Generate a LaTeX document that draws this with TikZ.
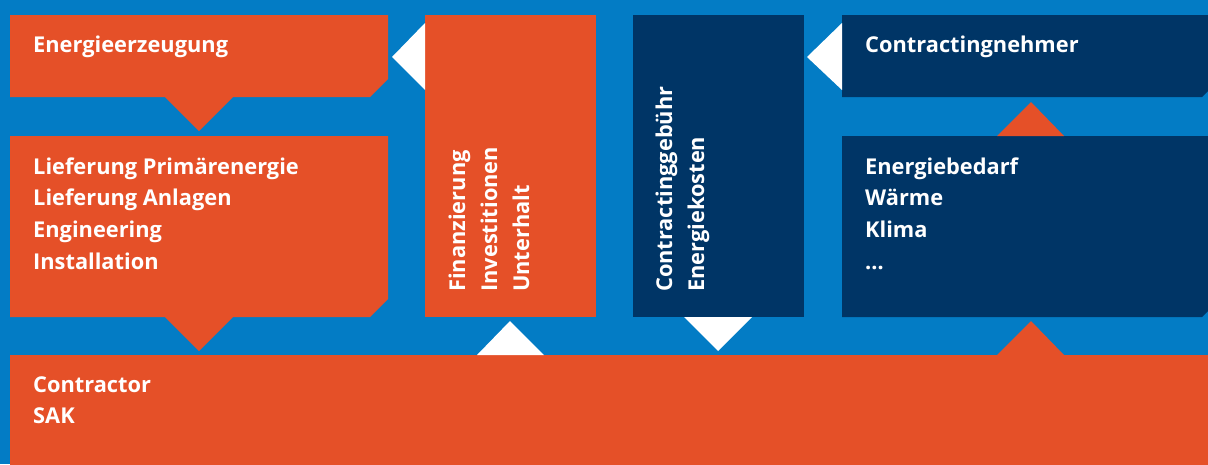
\documentclass[tikz,border=0pt]{standalone}
\usepackage{fontspec}
\setmainfont{Open Sans}
\definecolor{bgblue}{RGB}{3,124,197}
\definecolor{org}{RGB}{229,80,40}
\definecolor{navy}{RGB}{0,53,102}
\begin{document}
\begin{tikzpicture}[x=1pt,y=-1pt,
  lbl/.style={text=white,font=\bfseries\fontsize{21.8}{24}\selectfont,anchor=base west,inner sep=0pt},
  vlbl/.style={lbl,rotate=90}]
\useasboundingbox (0,0) rectangle (1208,464);
\fill[bgblue] (0,0) rectangle (1208,464);
\clip (0,0) rectangle (1208,464);
% orange boxes
\fill[org] (10,15) -- (388,15) -- (388,79) -- (370,97) -- (233,97) -- (199,131) -- (165,97) -- (10,97) -- cycle;
\fill[org] (10,136) -- (388,136) -- (388,299) -- (370,317) -- (233,317) -- (199,351) -- (165,317) -- (10,317) -- cycle;
\fill[org] (10,355) -- (997,355) -- (1031,321) -- (1064,355) -- (1220,355) -- (1220,470) -- (10,470) -- cycle;
\fill[org] (425,15) rectangle (596,317);
% navy boxes
\fill[navy] (633,15) rectangle (804,317);
\fill[navy] (842,15) -- (1220,15) -- (1220,79) -- (1202,97) -- (842,97) -- cycle;
\fill[navy] (842,136) -- (1220,136) -- (1220,299) -- (1202,317) -- (842,317) -- cycle;
\fill[org] (997,136) -- (1031,102) -- (1064,136) -- cycle;
% white triangles
\fill[white] (425,23) -- (392,57) -- (425,90) -- cycle;
\fill[white] (842,23) -- (807,57) -- (842,90) -- cycle;
\fill[white] (477,355) -- (510,321) -- (544,355) -- cycle;
\fill[white] (684,317) -- (718,351) -- (752,317) -- cycle;
% texts
\node[lbl] (t1) at (33,52.5) {Energieerzeugung};
\node[lbl] (t2a) at (33,174) {Lieferung Primärenergie};
\node[lbl] (t2b) at (33,205.5) {Lieferung Anlagen};
\node[lbl] (t2c) at (33,237.5) {Engineering};
\node[lbl] (t2d) at (33,269.5) {Installation};
\node[lbl] (t3a) at (33,392) {Contractor};
\node[lbl] (t3b) at (33,423) {SAK};
\node[lbl] (t4) at (865,52.5) {Contractingnehmer};
\node[lbl] (t5a) at (865,174) {Energiebedarf};
\node[lbl] (t5b) at (865,205.5) {Wärme};
\node[lbl] (t5c) at (865,237.5) {Klima};
\node[lbl] (t5d) at (865,269.5) {…};
\node[vlbl] (v1a) at (465,292) {Finanzierung};
\node[vlbl] (v1b) at (497,292) {Investitionen};
\node[vlbl] (v1c) at (529,292) {Unterhalt};
\node[vlbl] (v2a) at (672,292) {Contractinggebühr};
\node[vlbl] (v2b) at (704,292) {Energiekosten};
\end{tikzpicture}
\end{document}
